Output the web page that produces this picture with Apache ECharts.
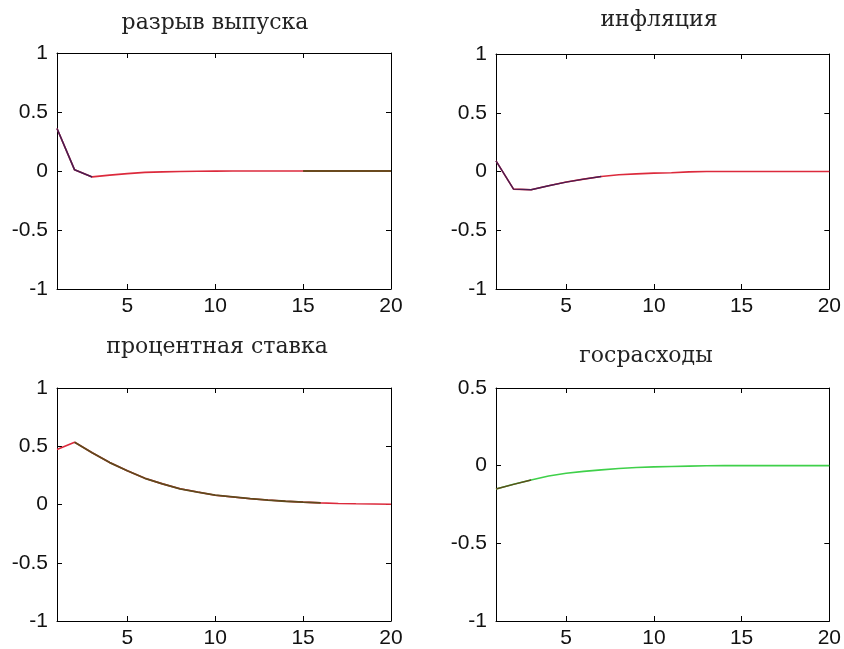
<!DOCTYPE html>
<html>
<head>
<meta charset="utf-8">
<script src="https://cdn.jsdelivr.net/npm/echarts@6/dist/echarts.min.js"></script>
<style>
html,body{margin:0;padding:0;background:#fff;}
#main{width:844px;height:649px;}
</style>
</head>
<body>
<div id="main"></div>
<script>
// ---- data ----
var periods = [1,2,3,4,5,6,7,8,9,10,11,12,13,14,15,16,17,18,19,20];
var titles = ['разрыв выпуска', 'инфляция', 'процентная ставка', 'госрасходы'];
var outputGap = [0.36, 0.01, -0.05, -0.035, -0.022, -0.012, -0.007, -0.004, -0.002, -0.001, 0, 0, 0, 0, 0, 0, 0, 0, 0, 0];
var inflation = [0.09, -0.15, -0.155, -0.121, -0.09, -0.065, -0.042, -0.028, -0.02, -0.014, -0.01, -0.003, 0, 0, 0, 0, 0, 0, 0, 0];
var interestRate = [0.472, 0.535, 0.444, 0.36, 0.29, 0.225, 0.177, 0.135, 0.107, 0.08, 0.065, 0.05, 0.038, 0.028, 0.02, 0.014, 0.009, 0.006, 0.004, 0.002];
var govSpending = [-0.15, -0.12, -0.092, -0.066, -0.049, -0.037, -0.027, -0.018, -0.012, -0.008, -0.005, -0.003, -0.001, 0, 0, 0, 0, 0, 0, 0];
var xTicks = [5, 10, 15, 20];
var yTicksFull = [-1, -0.5, 0, 0.5, 1];
var yTicksGov = [-1, -0.5, 0, 0.5];

function pairs(vals, from, to) {
  return periods.map(function (p, i) {
    if (from !== undefined && (p < from || p > to)) return [p, null];
    return [p, vals[i]];
  });
}

var chart = echarts.init(document.getElementById('main'));

var grids = [
  {left: 57, top: 53, width: 334, height: 236},
  {left: 496, top: 54, width: 336, height: 235},
  {left: 57, top: 388, width: 334, height: 235},
  {left: 496, top: 388, width: 336, height: 235}
];
var yRanges = [[-1, 1], [-1, 1], [-1, 1], [-1, 0.5]];
var yTickSets = [yTicksFull, yTicksFull, yTicksFull, yTicksGov];

var labelFont = {fontFamily: 'Liberation Sans', fontSize: 21, color: '#111'};
var xAxes = [], yAxes = [];
grids.forEach(function (g, i) {
  xAxes.push({
    type: 'value', gridIndex: i, min: 1, max: 20, position: 'bottom',
    axisLine: {show: true, onZero: false, lineStyle: {color: '#000', width: 1}},
    axisTick: {show: true, inside: true, length: 5, customValues: xTicks, lineStyle: {color: '#000'}},
    axisLabel: Object.assign({show: true, margin: 7, customValues: xTicks}, labelFont),
    splitLine: {show: false}
  });
  xAxes.push({
    type: 'value', gridIndex: i, min: 1, max: 20, position: 'top',
    axisLine: {show: true, onZero: false, lineStyle: {color: '#000', width: 1}},
    axisTick: {show: true, inside: true, length: 5, customValues: xTicks, lineStyle: {color: '#000'}},
    axisLabel: {show: false},
    splitLine: {show: false}
  });
  yAxes.push({
    type: 'value', gridIndex: i, min: yRanges[i][0], max: yRanges[i][1], interval: 0.5, position: 'left',
    axisLine: {show: true, onZero: false, lineStyle: {color: '#000', width: 1}},
    axisTick: {show: true, inside: true, length: 5, customValues: yTickSets[i], lineStyle: {color: '#000'}},
    axisLabel: Object.assign({show: true, margin: 9, customValues: yTickSets[i]}, labelFont),
    splitLine: {show: false}
  });
  yAxes.push({
    type: 'value', gridIndex: i, min: yRanges[i][0], max: yRanges[i][1], interval: 0.5, position: 'right',
    axisLine: {show: true, onZero: false, lineStyle: {color: '#000', width: 1}},
    axisTick: {show: true, inside: true, length: 5, customValues: yTickSets[i], lineStyle: {color: '#000'}},
    axisLabel: {show: false},
    splitLine: {show: false}
  });
});

function line(i, data, color, width, z) {
  return {
    type: 'line', xAxisIndex: i * 2, yAxisIndex: i * 2, data: data,
    showSymbol: false, symbol: 'none', connectNulls: false, animation: false,
    lineStyle: {color: color, width: width}, z: z || 2
  };
}

var red = '#dc2a3c', dark = '#4a1d52', brown = '#6a4a1e', green = '#3fd04a', olive = '#5e4a1c';

var series = [
  line(0, pairs(outputGap), red, 1.6),
  line(0, pairs(outputGap, 1, 3), dark, 1.6, 3),
  line(0, pairs(outputGap, 15, 20), brown, 2, 3),
  line(1, pairs(inflation), red, 1.6),
  line(1, pairs(inflation, 1, 7), dark, 1.4, 3),
  line(2, pairs(interestRate), red, 1.6),
  line(2, pairs(interestRate, 2, 16), olive, 1.8, 3),
  line(3, pairs(govSpending), green, 1.6),
  line(3, pairs(govSpending, 1, 3), olive, 1.4, 3)
];

var titlePos = [[215, 23], [659, 20], [217, 347], [646, 356]];
var graphics = titles.map(function (t, i) {
  return {
    type: 'text', x: titlePos[i][0], y: titlePos[i][1], z: 10,
    style: {text: t, align: 'center', verticalAlign: 'middle',
            font: '22px "DejaVu Serif"', fill: '#222'}
  };
});

chart.setOption({
  backgroundColor: '#fff',
  animation: false,
  grid: grids,
  xAxis: xAxes,
  yAxis: yAxes,
  series: series,
  graphic: graphics
});
</script>
</body>
</html>
